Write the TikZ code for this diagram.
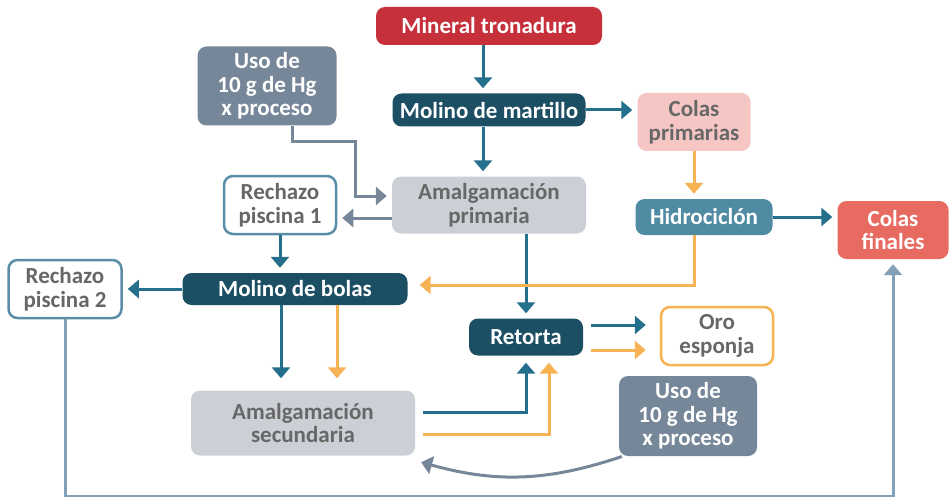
\documentclass[tikz,border=0pt]{standalone}
\usepackage{fontspec}
\setmainfont{Carlito}
\usetikzlibrary{arrows.meta, positioning}
\definecolor{rojo}{HTML}{C6303A}
\definecolor{petroleo}{HTML}{1C4F63}
\definecolor{azul}{HTML}{246F8B}
\definecolor{pizarra}{HTML}{77879A}
\definecolor{nube}{HTML}{CBD0D6}
\definecolor{rosa}{HTML}{F5C6C3}
\definecolor{ciclon}{HTML}{4F8BA3}
\definecolor{salmon}{HTML}{E86B62}
\definecolor{naranja}{HTML}{F6B253}
\definecolor{borde}{HTML}{5A8DA8}
\definecolor{retorno}{HTML}{82A0B7}
\definecolor{letra}{HTML}{676767}
\tikzset{
  caja/.style={rounded corners=9pt, align=center, inner sep=0pt,
    font=\bfseries\fontsize{23}{23.5}\selectfont},
  oscura/.style={caja, fill=petroleo, text=white},
  clara/.style={caja, fill=nube, text=letra},
  hueca/.style={caja, fill=white, draw=borde, line width=2.5pt, text=letra},
  mercurio/.style={caja, fill=pizarra, text=white},
  flujo/.style={line width=3pt, -{Triangle[width=18pt,length=11pt]}, shorten >=5pt},
  azulf/.style={flujo, azul},
  naranjaf/.style={flujo, naranja},
  grisf/.style={flujo, pizarra},
}
\begin{document}
\begin{tikzpicture}[x=1pt,y=-1pt]
\useasboundingbox (0,0) rectangle (949,497);
%----------------------------------------------------------------
\node(mineral) [caja, fill=rojo, text=white, minimum width=226pt, minimum height=38pt] at (489,26) {Mineral tronadura};
\node(martillo) [oscura, minimum width=193pt, minimum height=33pt] at (489,110) {Molino de martillo};
\node(colas1) [caja, fill=rosa, text=letra, minimum width=113pt, minimum height=58pt] at (694,122) {Colas\\primarias};
\node(uso1) [mercurio, minimum width=139pt, minimum height=79pt] at (267,86) {Uso de\\10 g de Hg\\x proceso};
\node(amalg1) [clara, minimum width=194pt, minimum height=57pt] at (489,205) {Amalgamación\\primaria};
\node(rech1) [hueca, minimum width=112pt, minimum height=58pt] at (280,205) {Rechazo\\piscina 1};
\node(hidro) [caja, fill=ciclon, text=white, minimum width=137pt, minimum height=36pt] at (704,217) {Hidrociclón};
\node(finales) [caja, fill=salmon, text=white, minimum width=111pt, minimum height=58pt] at (893,230) {Colas\\finales};
%----------------------------------------------------------------
\node(rech2) [hueca, minimum width=113pt, minimum height=58pt] at (65,289) {Rechazo\\piscina 2};
\node(bolas) [oscura, minimum width=225pt, minimum height=32pt] at (295,289) {Molino de bolas};
\node(retorta) [oscura, minimum width=114pt, minimum height=37pt] at (526,337) {Retorta};
\node(oro) [hueca, draw=naranja, minimum width=112pt, minimum height=58pt] at (717,336) {Oro\\esponja};
\node(amalg2) [clara, minimum width=224pt, minimum height=65pt] at (303,423) {Amalgamación\\secundaria};
\node(uso2) [mercurio, minimum width=138pt, minimum height=80pt] at (688,416) {Uso de\\10 g de Hg\\x proceso};
%----------------------------------------------------------------
\draw[azulf] (mineral.south -| 483,0) -- (martillo.north -| 483,0);
\draw[azulf] (martillo) -- (martillo -| colas1.west);
\draw[azulf] (martillo.south -| 483,0) -- (amalg1.north -| 483,0);
\draw[grisf] ([xshift=25pt]uso1.south) -- ++(0,16) -| ([xshift=-36pt,yshift=9pt]amalg1.west) -- ([yshift=9pt]amalg1.west);
\draw[grisf] ([yshift=-13pt]amalg1.west) -- ([yshift=-13pt]amalg1.west -| rech1.east);
\draw[azulf] (rech1) -- (rech1 |- bolas.north);
\draw[azulf] (retorta.north |- amalg1.south) -- (retorta.north);
\draw[naranjaf] (colas1) -- (colas1 |- hidro.north);
\draw[azulf] (hidro) -- (hidro -| finales.west);
\draw[naranjaf, shorten >=12pt] ([xshift=-10pt]hidro.south) |- ([yshift=4pt]bolas.east);
%----------------------------------------------------------------
\draw[azulf] (bolas) -- (bolas -| rech2.east);
\draw[azulf, shorten >=12pt] ([xshift=-14pt]bolas.south) -- ([xshift=-14pt]bolas.south |- amalg2.north);
\draw[naranjaf, shorten >=12pt] ([xshift=42pt]bolas.south) -- ([xshift=42pt]bolas.south |- amalg2.north);
\draw[azulf, shorten <=8pt, shorten >=7pt] ([yshift=11pt]amalg2.east) -| (retorta.south);
\draw[naranjaf, shorten <=8pt, shorten >=7pt] ([yshift=-11pt]amalg2.east) -| ([xshift=23pt]retorta.south);
\draw[azulf, shorten <=8pt, shorten >=14pt] ([yshift=12pt]retorta.east) -- ([yshift=12pt]retorta.east -| oro.west);
\draw[naranjaf, shorten <=8pt, shorten >=14pt] ([yshift=-13pt]retorta.east) -- ([yshift=-13pt]retorta.east -| oro.west);
\draw[flujo, retorno] (rech2.south) -- ++(0,177) -| (finales.south);
\draw[grisf, shorten <=1pt, shorten >=2pt] ([xshift=4pt]uso2.south west) to[bend left=17] ([xshift=4pt,yshift=-6pt]amalg2.south east);
\end{tikzpicture}
\end{document}
